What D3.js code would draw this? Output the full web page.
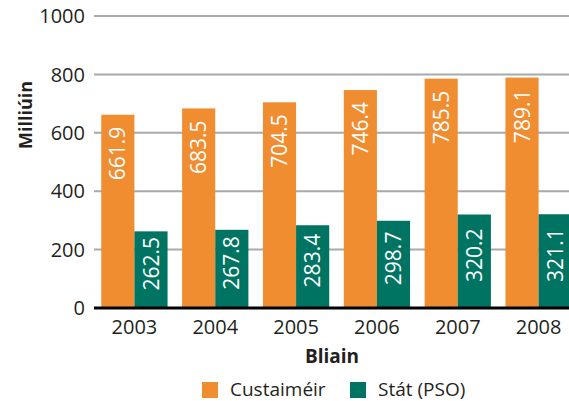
<!DOCTYPE html>
<html>
<head>
<meta charset="utf-8">
<script src="https://cdnjs.cloudflare.com/ajax/libs/d3/7.8.5/d3.min.js"></script>
<style>
  body { margin: 0; background: #fff; }
  svg { display: block; font-family: "Open Sans", "Noto Sans", sans-serif; }
</style>
</head>
<body>
<div id="chart"></div>
<script>
// data
var years = ['2003', '2004', '2005', '2006', '2007', '2008'];
var seriesNames = ['Custaiméir', 'Stát (PSO)'];
var custaimeir = [661.9, 683.5, 704.5, 746.4, 785.5, 789.1];
var stat = [262.5, 267.8, 283.4, 298.7, 320.2, 321.1];
var yTicks = [0, 200, 400, 600, 800, 1000];

var colors = ['#F08D31', '#007462'];

var width = 569, height = 401;
var svg = d3.select('#chart').append('svg')
    .attr('width', width)
    .attr('height', height);

// plot area (runs a little past the right edge, like the original)
var x0 = 94, x1 = 579, yTop = 16, yBottom = 308;

var x = d3.scaleBand()
    .domain(years)
    .range([x0, x1])
    .paddingInner(0.18)
    .paddingOuter(0.09);

var xSub = d3.scaleBand()
    .domain([0, 1])
    .range([0, x.bandwidth()]);

var y = d3.scaleLinear()
    .domain([0, 1000])
    .range([yBottom, yTop]);

// gridlines
svg.append('g').selectAll('line')
    .data(yTicks.filter(function(d) { return d > 0; }))
    .enter().append('line')
    .attr('x1', x0).attr('x2', width)
    .attr('y1', function(d) { return y(d); })
    .attr('y2', function(d) { return y(d); })
    .attr('stroke', '#A7A9AC')
    .attr('stroke-width', 2);

// y tick labels
svg.append('g').selectAll('text')
    .data(yTicks)
    .enter().append('text')
    .attr('x', 85)
    .attr('y', function(d) { return y(d); })
    .attr('dy', '0.36em')
    .attr('text-anchor', 'end')
    .attr('font-size', 20)
    .attr('fill', '#231F20')
    .text(function(d) { return d; });

// bars
var rows = years.map(function(yr, i) {
    return { year: yr, values: [custaimeir[i], stat[i]] };
});

var groups = svg.append('g').selectAll('g')
    .data(rows)
    .enter().append('g')
    .attr('transform', function(d) { return 'translate(' + x(d.year) + ',0)'; });

groups.selectAll('rect')
    .data(function(d) { return d.values.map(function(v, k) { return { k: k, v: v }; }); })
    .enter().append('rect')
    .attr('x', function(d) { return xSub(d.k); })
    .attr('width', xSub.bandwidth())
    .attr('y', function(d) { return y(d.v); })
    .attr('height', function(d) { return y(0) - y(d.v); })
    .attr('fill', function(d) { return colors[d.k]; });

// value labels, rotated
groups.selectAll('text.val')
    .data(function(d) { return d.values.map(function(v, k) { return { k: k, v: v }; }); })
    .enter().append('text')
    .attr('class', 'val')
    .attr('transform', function(d) {
        var cx = xSub(d.k) + xSub.bandwidth() / 2;
        var cy = d.k === 0 ? y(d.v) + 12 : (y(d.v) + y(0)) / 2 - 6;
        return 'translate(' + cx + ',' + cy + ') rotate(-90)';
    })
    .attr('dy', '0.36em')
    .attr('text-anchor', function(d) { return d.k === 0 ? 'end' : 'middle'; })
    .attr('font-size', 21)
    .attr('fill', '#fff')
    .text(function(d) { return d.v.toFixed(1); });

// zero axis line
svg.append('line')
    .attr('x1', x0).attr('x2', width)
    .attr('y1', y(0)).attr('y2', y(0))
    .attr('stroke', '#000')
    .attr('stroke-width', 3);

// x tick labels
svg.append('g').selectAll('text')
    .data(years)
    .enter().append('text')
    .attr('x', function(d) { return x(d) + x.bandwidth() / 2; })
    .attr('y', 334)
    .attr('text-anchor', 'middle')
    .attr('font-size', 20)
    .attr('fill', '#231F20')
    .text(function(d) { return d; });

// axis titles
svg.append('text')
    .attr('x', 332).attr('y', 363)
    .attr('text-anchor', 'middle')
    .attr('font-size', 19)
    .attr('font-weight', 'bold')
    .attr('fill', '#231F20')
    .text('Bliain');

svg.append('text')
    .attr('transform', 'translate(32,115) rotate(-90)')
    .attr('text-anchor', 'middle')
    .attr('font-size', 18)
    .attr('font-weight', 'bold')
    .attr('fill', '#231F20')
    .text('Milliúin');

// legend
var legendX = [202, 350];
var legend = svg.append('g').selectAll('g')
    .data(seriesNames)
    .enter().append('g')
    .attr('transform', function(d, i) { return 'translate(' + legendX[i] + ',382)'; });

legend.append('rect')
    .attr('width', 16).attr('height', 16)
    .attr('fill', function(d, i) { return colors[i]; });

legend.append('text')
    .attr('x', 28).attr('y', 14)
    .attr('font-size', 19)
    .attr('fill', '#231F20')
    .text(function(d) { return d; });
</script>
</body>
</html>
